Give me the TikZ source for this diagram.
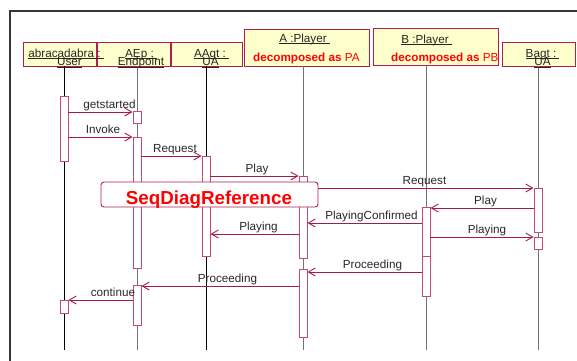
\documentclass[tikz,border=0pt]{standalone}
\usepackage{fontspec}
\setmainfont{Liberation Sans}
\usetikzlibrary{arrows.meta}
\definecolor{msgc}{RGB}{165,25,75}
\definecolor{actc}{RGB}{195,75,115}
\definecolor{headfill}{RGB}{255,255,204}
\definecolor{headline}{RGB}{175,30,80}
\definecolor{lblc}{RGB}{40,40,40}
\definecolor{llgray}{RGB}{115,115,115}
\definecolor{framec}{RGB}{55,55,55}
\definecolor{redt}{RGB}{255,0,0}
\begin{document}
\begin{tikzpicture}[x=1pt,y=-1pt,
  headbox/.style={draw=headline,fill=headfill,line width=0.9pt},
  lifeg/.style={draw=llgray,line width=1pt},
  lifeb/.style={draw=black,line width=0.8pt},
  actbox/.style={draw=actc,fill=white,line width=0.9pt,minimum width=8pt,inner sep=0pt,anchor=north},
  msg/.style={draw=msgc,line width=0.9pt,-{Straight Barb[length=7pt,width=8pt]}},
  lbl/.style={font=\fontsize{11.7}{12}\selectfont,text=lblc,inner sep=0pt,anchor=base},
  htxt/.style={font=\fontsize{11.7}{12}\selectfont,text=black!85,inner sep=0pt,anchor=base},
  uline/.style={draw=black!85,line width=0.7pt},
  dtxt/.style={font=\fontsize{11.7}{12}\selectfont,text=redt,inner sep=0pt,anchor=base west},
]
\useasboundingbox (0,0) rectangle (577,360);
% frame
\draw[framec,line width=1.5pt] (10,365) -- (10,11) -- (582,11);
% header boxes
\draw[headbox] (23,42) rectangle (96,66);
\draw[headbox] (97,42) rectangle (170,66);
\draw[headbox] (171,42) rectangle (242,66);
\draw[headbox] (244,29) rectangle (369,66);
\draw[headbox] (373,28) rectangle (498,65);
\draw[headbox] (502,42) rectangle (575,66);
% lifelines
\draw[lifeb] (64,66) -- (64,350);
\draw[lifeg] (137,66) -- (137,350);
\draw[lifeb] (206,66) -- (206,350);
\draw[lifeg] (303,66) -- (303,350);
\draw[lifeg] (426,65) -- (426,350);
\draw[lifeg] (538,66) -- (538,350);
% header texts
\node[htxt] (tU1) at (64.5,57) {abracadabra :};
\node[htxt] (tU2) at (69.5,65.5) {User};
\node[htxt] (tE1) at (139.5,57) {AEp :};
\node[htxt] (tE2) at (141,65.5) {Endpoint};
\node[htxt] (tG1) at (210,57) {AAgt :};
\node[htxt] (tG2) at (210.5,65.5) {UA};
\node[htxt] (tA1) at (303,42) {A :Player};
\node[htxt] (tB1) at (425,43) {B :Player};
\node[htxt] (tT1) at (541,57) {Bagt :};
\node[htxt] (tT2) at (542.5,65.5) {UA};
\foreach \n in {tU1,tE1,tG1,tA1,tB1,tT1}
  \draw[uline] ([yshift=-1.6pt]\n.base west) -- ([yshift=-1.6pt,xshift=3pt]\n.base east);
\foreach \n in {tU2,tE2,tG2,tT2}
  \draw[uline] ([yshift=-1.6pt]\n.base west) -- ([yshift=-1.6pt]\n.base east);
\node[dtxt] (dA) at (253,61) {\bfseries decomposed as \mdseries PA};
\node[dtxt] (dB) at (391,61) {\bfseries decomposed as \mdseries PB};
% activations
\node[actbox,minimum height=65pt] (aU1) at (64,96) {};
\node[actbox,minimum height=13pt] (aU2) at (64,300) {};
\node[actbox,minimum height=12pt] (aE1) at (137,111) {};
\node[actbox,minimum height=131pt] (aE2) at (137,137) {};
\node[actbox,minimum height=40pt] (aE3) at (137,285) {};
\node[actbox,minimum height=100pt] (aG1) at (206,156) {};
\node[actbox,minimum height=82pt] (aA1) at (303,176) {};
\node[actbox,minimum height=68pt] (aA2) at (303,269) {};
\node[actbox,minimum height=49pt] (aB1) at (426,207) {};
\node[actbox,minimum height=40pt] (aB2) at (426,256) {};
\node[actbox,minimum height=44pt] (aT1) at (538,188) {};
\node[actbox,minimum height=12pt] (aT2) at (538,237) {};
% messages
\draw[msg] (aU1.east |- 0,112) -- (aE1.west |- 0,112);
\node[lbl] (m1) at (109.5,108.5) {getstarted};
\draw[msg] (aU1.east |- 0,137) -- (aE2.west |- 0,137);
\node[lbl] (m2) at (103,133.5) {Invoke};
\draw[msg] (aE2.east |- 0,156) -- (aG1.west |- 0,156);
\node[lbl] (m3) at (175,152.5) {Request};
\draw[msg] (aG1.east |- 0,176) -- (aA1.west |- 0,176);
\node[lbl] (m4) at (257,172.5) {Play};
% reference box
\node[draw=headline,fill=white,rounded corners=3pt,minimum width=217pt,minimum height=25pt,line width=0.9pt,inner sep=0pt] (ref) at (209.5,194.5) {};
\node[font=\bfseries\fontsize{18.8}{20}\selectfont,text=redt,inner sep=0pt,anchor=base] (refT) at (209,204) {SeqDiagReference};
\draw[msg] (ref.east |- 0,188) -- (aT1.west |- 0,188);
\node[lbl] (m5) at (424.5,184.5) {Request};
\draw[msg] (aT1.west |- 0,208) -- (aB1.east |- 0,208);
\node[lbl] (m6) at (485.5,204.5) {Play};
\draw[msg] (aB1.west |- 0,223) -- (aA1.east |- 0,223);
\node[lbl] (m7) at (371.5,219.5) {PlayingConfirmed};
\draw[msg] (aA1.west |- 0,234) -- (aG1.east |- 0,234);
\node[lbl] (m8) at (258.5,230.5) {Playing};
\draw[msg] (aB1.east |- 0,237) -- (aT2.west |- 0,237);
\node[lbl] (m9) at (487,233.5) {Playing};
\draw[msg] (aB2.west |- 0,272) -- (aA2.east |- 0,272);
\node[lbl] (m10) at (372.5,268.5) {Proceeding};
\draw[msg] (aA2.west |- 0,286) -- (aE3.east |- 0,286);
\node[lbl] (m11) at (227.5,282.5) {Proceeding};
\draw[msg] (aE3.west |- 0,300) -- (aU2.east |- 0,300);
\node[lbl] (m12) at (113,296.5) {continue};
\end{tikzpicture}
\end{document}
